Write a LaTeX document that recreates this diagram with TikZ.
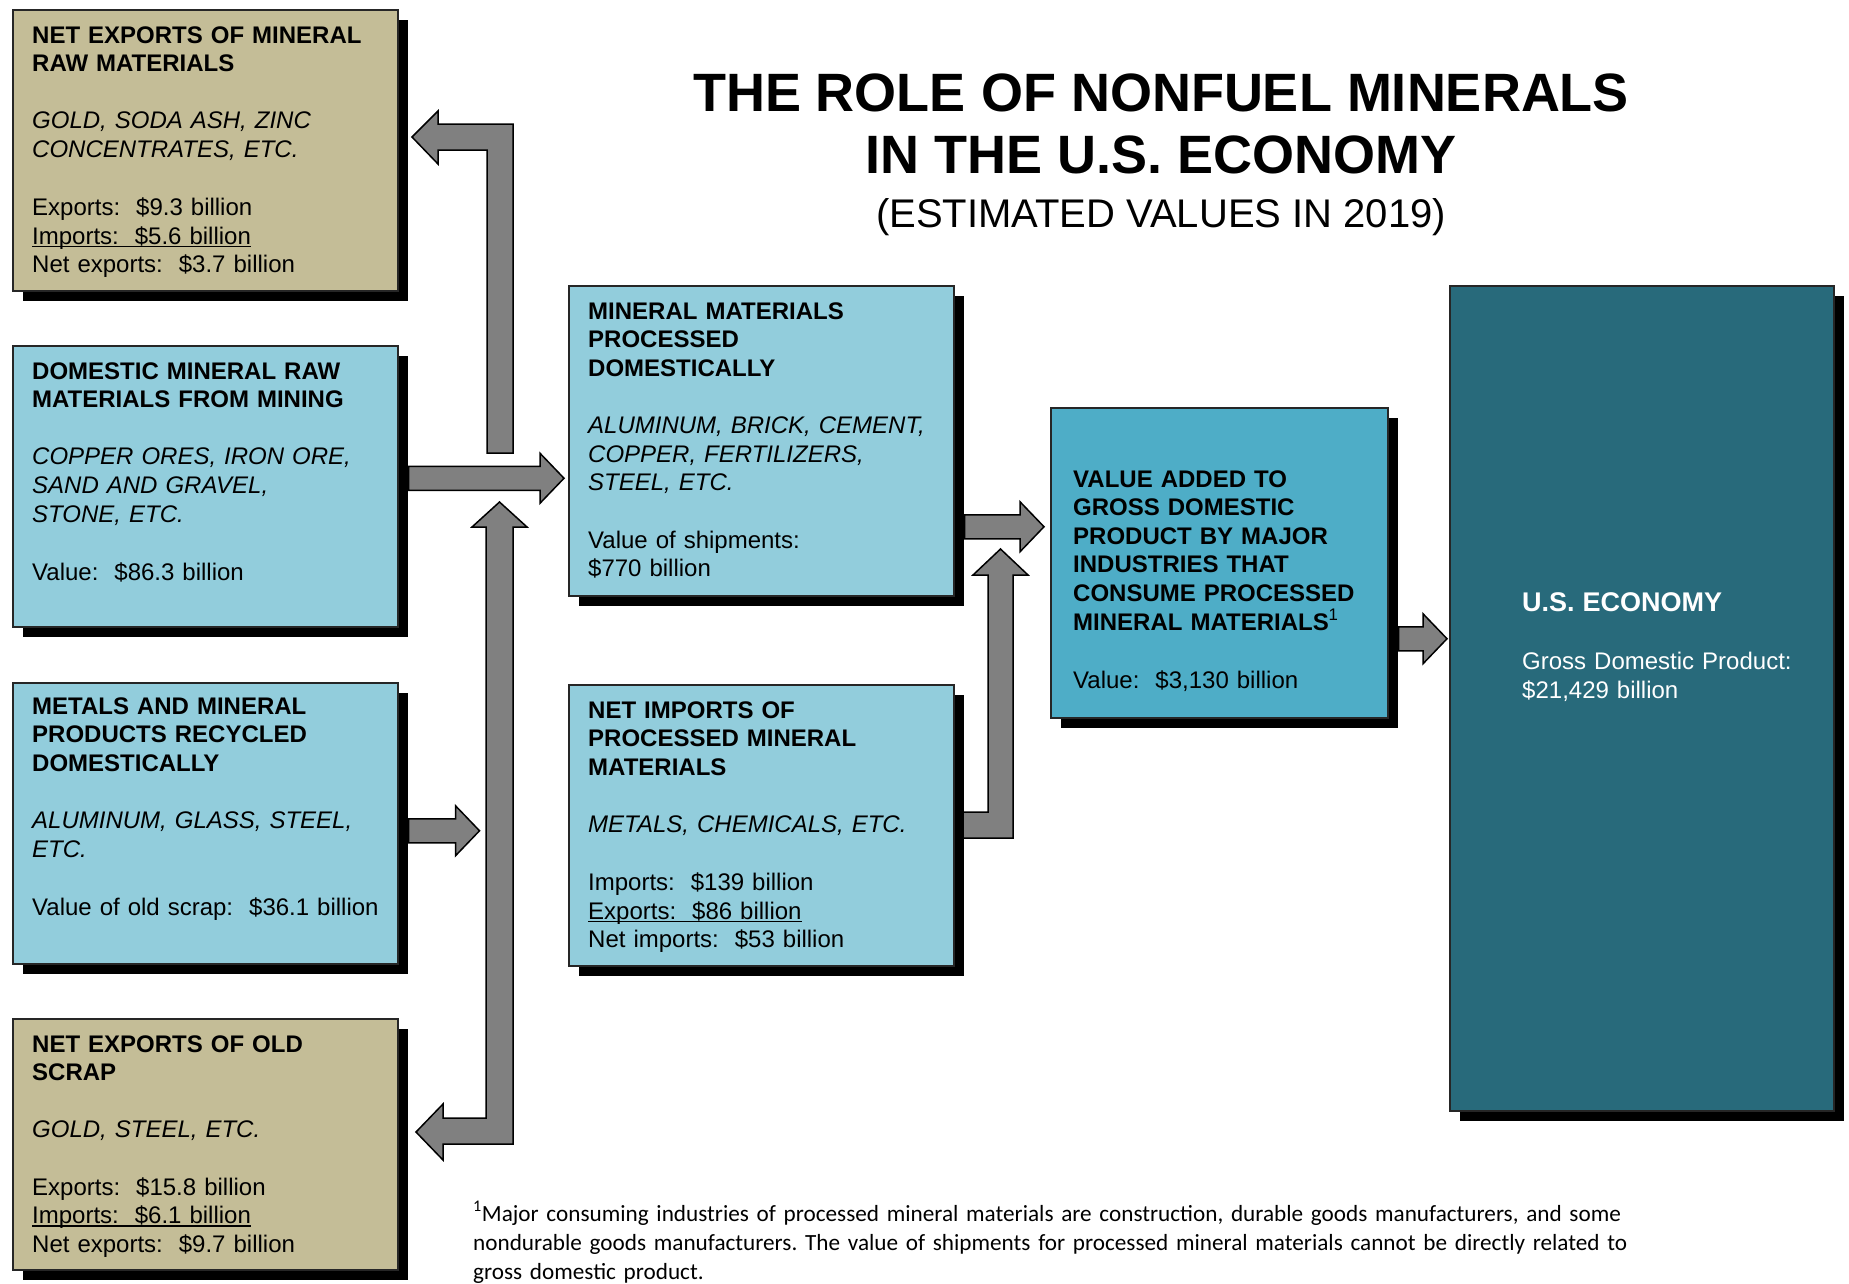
\documentclass[tikz,border=0pt]{standalone}
\usepackage{fontspec}
\setmainfont{Liberation Sans}
\newfontfamily\notefont{Carlito}
\usetikzlibrary{calc,shadows}
\frenchspacing

\definecolor{tanfill}{HTML}{C4BD97}
\definecolor{paleblue}{HTML}{92CDDC}
\definecolor{midblue}{HTML}{4EADC7}
\definecolor{darkteal}{HTML}{286A7B}
\definecolor{arrowgray}{HTML}{808080}

% underline sitting just under the baseline
\newcommand{\undl}[1]{\leavevmode\setbox0\hbox{#1}\rlap{\rule[-3pt]{\wd0}{1.2pt}}\box0}

% straight block arrow pointing right: start point, tip point
\newcommand{\rightblock}[2]{%
  \draw[blockarrow] let \p1=(#1), \p2=(#2) in
    (\x1,\y1+12pt) -- (\x2-24pt,\y1+12pt) -- (\x2-24pt,\y1+25pt) -- (\x2,\y1)
    -- (\x2-24pt,\y1-25pt) -- (\x2-24pt,\y1-12pt) -- (\x1,\y1-12pt) -- cycle;}

\begin{document}
\begin{tikzpicture}
    [x=1pt, y=-1pt,
    panel/.style={draw=black!85, line width=1.5pt, anchor=north west, inner sep=0pt,
        drop shadow={shadow xshift=10pt, shadow yshift=-10pt, fill=black, opacity=1}},
    paneltext/.style={anchor=base west, inner sep=0pt, align=left, text width=380pt,
        font=\fontsize{24}{28.6}\selectfont},
    blockarrow/.style={draw=black, line width=1.5pt, fill=arrowgray, line join=miter}]

    \useasboundingbox (0,0) rectangle (1849,1283);
    \fill[white] (0,0) rectangle (1849,1283);

    % Title
    \node[anchor=base, font=\bfseries\fontsize{54}{62}\selectfont] (title) at (1161,111) {THE ROLE OF NONFUEL MINERALS};
    \node[anchor=base, font=\bfseries\fontsize{54}{62}\selectfont] (title2) at (1161,173) {IN THE U.S. ECONOMY};
    \node[anchor=base, font=\fontsize{40}{48}\selectfont] (subtitle) at (1161,227) {(ESTIMATED VALUES IN 2019)};

    % Left column
    \node[panel, fill=tanfill, minimum width=385, minimum height=281] (rawexp) at (12,9) {};
    \node[paneltext] (rawexptext) at ([shift={(20,34)}]rawexp.north west)
        {{\bfseries NET EXPORTS OF MINERAL\\RAW MATERIALS}\\[28.6pt]
         {\itshape GOLD, SODA ASH, ZINC\\CONCENTRATES, ETC.}\\[29.5pt]
         Exports:\ \ \$9.3 billion\\
         \undl{Imports:\ \ \$5.6 billion}\\
         Net exports:\ \ \$3.7 billion};

    \node[panel, fill=paleblue, minimum width=385, minimum height=281] (mining) at (12,345) {};
    \node[paneltext] (miningtext) at ([shift={(20,34)}]mining.north west)
        {{\bfseries DOMESTIC MINERAL RAW\\MATERIALS FROM MINING}\\[28.6pt]
         {\itshape COPPER ORES, IRON ORE,\\SAND AND GRAVEL,\\STONE, ETC.}\\[29.5pt]
         Value:\ \ \$86.3 billion};

    \node[panel, fill=paleblue, minimum width=385, minimum height=281] (recycle) at (12,682) {};
    \node[paneltext] (recycletext) at ([shift={(20,32)}]recycle.north west)
        {{\bfseries METALS AND MINERAL\\PRODUCTS RECYCLED\\DOMESTICALLY}\\[28.6pt]
         {\itshape ALUMINUM, GLASS, STEEL,\\ETC.}\\[29.5pt]
         Value of old scrap:\ \ \$36.1 billion};

    \node[panel, fill=tanfill, minimum width=385, minimum height=251] (scrapexp) at (12,1018) {};
    \node[paneltext] (scrapexptext) at ([shift={(20,34)}]scrapexp.north west)
        {{\bfseries NET EXPORTS OF OLD\\SCRAP}\\[28.6pt]
         {\itshape GOLD, STEEL, ETC.}\\[28.6pt]
         Exports:\ \ \$15.8 billion\\
         \undl{Imports:\ \ \$6.1 billion}\\
         Net exports:\ \ \$9.7 billion};

    % Middle column
    \node[panel, fill=paleblue, minimum width=385, minimum height=310] (processed) at (568,285) {};
    \node[paneltext] (processedtext) at ([shift={(20,34)}]processed.north west)
        {{\bfseries MINERAL MATERIALS\\PROCESSED\\DOMESTICALLY}\\[28.6pt]
         {\itshape ALUMINUM, BRICK, CEMENT,\\COPPER, FERTILIZERS,\\STEEL, ETC.}\\[29pt]
         Value of shipments:\\\$770 billion};

    \node[panel, fill=paleblue, minimum width=385, minimum height=281] (netimp) at (568,684) {};
    \node[paneltext] (netimptext) at ([shift={(20,34)}]netimp.north west)
        {{\bfseries NET IMPORTS OF\\PROCESSED MINERAL\\MATERIALS}\\[28.6pt]
         {\itshape METALS, CHEMICALS, ETC.}\\[29.5pt]
         Imports:\ \ \$139 billion\\
         \undl{Exports:\ \ \$86 billion}\\
         Net imports:\ \ \$53 billion};

    % Right side
    \node[panel, fill=midblue, minimum width=337, minimum height=310] (valadd) at (1050,407) {};
    \node[paneltext] (valaddtext) at ([shift={(23,80)}]valadd.north west)
        {{\bfseries VALUE ADDED TO\\GROSS DOMESTIC\\PRODUCT BY MAJOR\\INDUSTRIES THAT\\CONSUME PROCESSED\\MINERAL MATERIALS\textsuperscript{\mdseries 1}}\\[29.5pt]
         Value:\ \ \$3,130 billion};

    \node[panel, fill=darkteal, minimum width=384, minimum height=825] (useco) at (1449,285) {};
    \node[paneltext, text=white] (usecotext) at ([shift={(73,326)}]useco.north west)
        {{\bfseries\fontsize{27}{28.6}\selectfont U.S. ECONOMY}\\[30pt]
         Gross Domestic Product:\\\$21,429 billion};

    % Block arrows
    \rightblock{[shift={(10,-8)}]mining.east}{[xshift=-4pt]processed.west}
    \rightblock{[shift={(10,7.5)}]recycle.east}{[xshift=81pt]recycle.east}
    \rightblock{[shift={(10,86)}]processed.east}{[xshift=-6pt]valadd.west}
    \rightblock{[shift={(10,76)}]valadd.east}{[xshift=-2pt]useco.west}

    % bent arrow up to the raw exports box
    \draw[blockarrow] (487,453) -- (487,150) -- (438,150) -- (438,164) -- (412,137)
        -- (438,111) -- (438,124) -- (513,124) -- (513,453) -- cycle;
    % two-headed arrow: up to the mining flow, left to old scrap exports
    \draw[blockarrow] (499.5,502) -- (527,527) -- (513,527) -- (513,1144) -- (443,1144)
        -- (443,1160) -- (416,1132) -- (443,1104) -- (443,1118) -- (486,1118)
        -- (486,527) -- (472,527) -- cycle;
    % net imports up to the value added flow
    \draw[blockarrow] (963,812) -- (988,812) -- (988,575) -- (973,575) -- (1000.5,549)
        -- (1028,575) -- (1013,575) -- (1013,838) -- (963,838) -- cycle;

    % Footnote
    \node[anchor=base west, inner sep=0pt, align=left, text width=1300pt,
        font=\notefont\fontsize{23.2}{29}\selectfont] (note) at (473,1221)
        {\textsuperscript{1}Major consuming industries of processed mineral materials are construction, durable goods manufacturers, and some\\
         nondurable goods manufacturers. The value of shipments for processed mineral materials cannot be directly related to\\
         gross domestic product.};

\end{tikzpicture}
\end{document}
